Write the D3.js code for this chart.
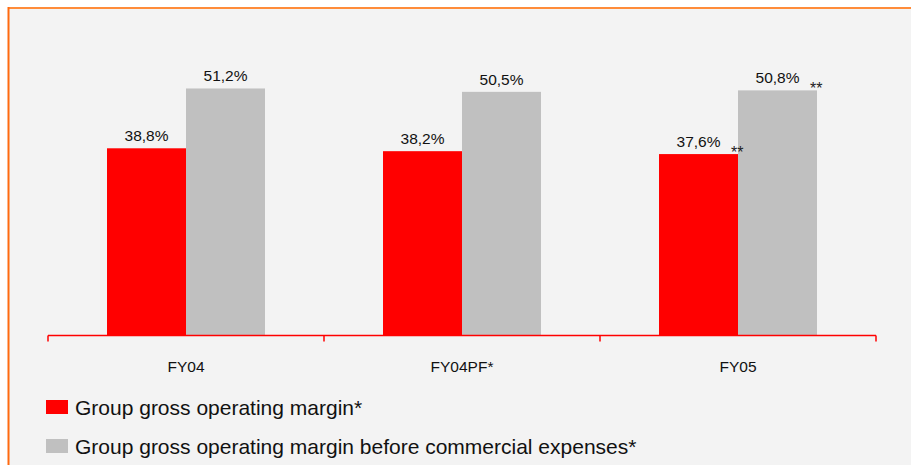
<!DOCTYPE html>
<html><head><meta charset="utf-8">
<script src="https://cdn.jsdelivr.net/npm/d3@7"></script>
<style>html,body{margin:0;padding:0;background:#fff;}svg{display:block;}</style>
</head><body>
<script>
const categories = ["FY04", "FY04PF*", "FY05"];
const seriesNames = ["Group gross operating margin*", "Group gross operating margin before commercial expenses*"];
const grossMargin = [38.8, 38.2, 37.6];
const grossMarginBeforeCommercial = [51.2, 50.5, 50.8];
const valueLabels = [["38,8%", "38,2%", "37,6%"], ["51,2%", "50,5%", "50,8%"]];
const footnoteMarks = [["", "", "**"], ["", "", "**"]];
const colors = ["#ff0000", "#c0c0c0"];

const W = 911, H = 465;
const FONT = "'Liberation Sans', Arial, sans-serif";
const svg = d3.select("body").append("svg").attr("width", W).attr("height", H);

// frame
svg.append("rect").attr("x", 9).attr("y", 8).attr("width", W).attr("height", H)
  .attr("fill", "#f3f3f3");
svg.append("line").attr("x1", 8).attr("x2", W).attr("y1", 8).attr("y2", 8)
  .attr("stroke", "#ff8c3a").attr("stroke-width", 2);
svg.append("line").attr("x1", 8.5).attr("x2", 8.5).attr("y1", 7).attr("y2", H)
  .attr("stroke", "#ff6a10").attr("stroke-width", 2);

const x0 = d3.scaleBand().domain(categories).range([48, 876]).padding(0);
const x1 = d3.scaleBand().domain([0, 1]).range([0, x0.bandwidth()]).paddingInner(0).paddingOuter(0.747);
const y = d3.scaleLinear().domain([0, 60]).range([335.5, 46]);

const data = categories.map((c, i) => ({cat: c, vals: [grossMargin[i], grossMarginBeforeCommercial[i]], idx: i}));

const g = svg.append("g").selectAll("g").data(data).join("g")
  .attr("transform", d => `translate(${x0(d.cat)},0)`);

g.selectAll("rect").data(d => d.vals.map((v, s) => ({v, s}))).join("rect")
  .attr("x", d => x1(d.s)).attr("width", x1.bandwidth())
  .attr("y", d => y(d.v)).attr("height", d => y(0) - y(d.v))
  .attr("fill", d => colors[d.s]);

g.selectAll("text.val").data(d => d.vals.map((v, s) => ({v, s, i: d.idx}))).join("text")
  .attr("class", "val")
  .attr("x", d => x1(d.s) + x1.bandwidth() / 2)
  .attr("y", d => y(d.v) - 7)
  .attr("text-anchor", "middle")
  .attr("font-family", FONT)
  .attr("font-size", 15.5).attr("fill", "#111")
  .text(d => valueLabels[d.s][d.i]);

g.selectAll("text.fn").data(d => d.vals.map((v, s) => ({v, s, i: d.idx})).filter(d => footnoteMarks[d.s][d.i])).join("text")
  .attr("class", "fn")
  .attr("x", d => x1(d.s) + x1.bandwidth() - 7)
  .attr("y", d => y(d.v) + 4)
  .attr("font-family", FONT)
  .attr("font-size", 16).attr("fill", "#222")
  .text(d => footnoteMarks[d.s][d.i]);

// axis
const axis = svg.append("g");
axis.append("line").attr("x1", 48).attr("x2", 876).attr("y1", y(0)).attr("y2", y(0))
  .attr("stroke", "#ff0000").attr("stroke-width", 1.5);
const tickXs = categories.map(c => x0(c)).concat([x0(categories[categories.length - 1]) + x0.bandwidth()]);
axis.selectAll("line.tick").data(tickXs).join("line").attr("class", "tick")
  .attr("x1", d => d).attr("x2", d => d).attr("y1", y(0)).attr("y2", y(0) + 6)
  .attr("stroke", "#ff0000").attr("stroke-width", 1.5);
axis.selectAll("text").data(categories).join("text")
  .attr("x", d => x0(d) + x0.bandwidth() / 2).attr("y", 372)
  .attr("text-anchor", "middle")
  .attr("font-family", FONT)
  .attr("font-size", 15.5).attr("fill", "#111")
  .text(d => d);

// legend
const leg = svg.append("g").selectAll("g").data(seriesNames).join("g")
  .attr("transform", (d, i) => `translate(45,${400 + i * 39})`);
leg.append("rect").attr("x", 1).attr("y", 0).attr("width", 22).attr("height", 14)
  .attr("fill", (d, i) => colors[i]);
leg.append("text").attr("x", 30).attr("y", 14.5)
  .attr("font-family", FONT)
  .attr("font-size", 21).attr("fill", "#111")
  .text(d => d);
</script>
</body></html>
